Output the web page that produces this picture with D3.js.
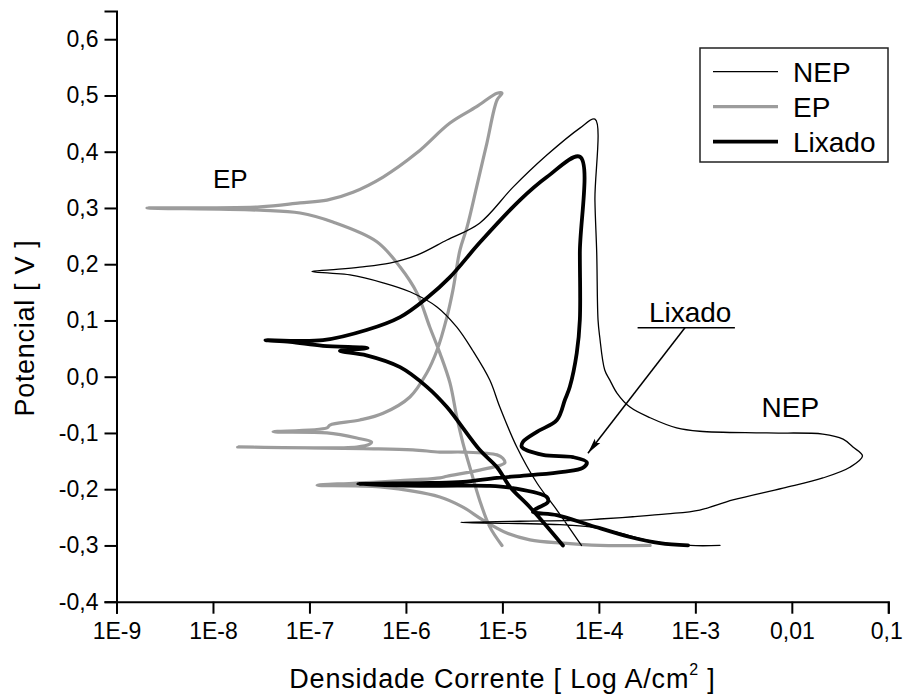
<!DOCTYPE html>
<html>
<head>
<meta charset="utf-8">
<script src="https://cdn.jsdelivr.net/npm/d3@7"></script>
<style>
  html, body { margin: 0; padding: 0; background: #fff; }
  svg { display: block; }
  text { font-family: "Liberation Sans", Arial, sans-serif; fill: #000; }
</style>
</head>
<body>
<svg id="chart" width="903" height="695"></svg>
<script>
// ---- Data (current density in A/cm², potential in V) ----
const nepCurrent = [6.6e-5,3.67e-5,2.28e-5,1.41e-5,9.4e-6,7.4e-6,4.9e-6,3.37e-6,2.1e-6,1.1e-6,5.8e-7,2.63e-7,1.63e-7,1.06e-7,
  1.63e-7,3.33e-7,6.8e-7,1.3e-6,2.66e-6,5.8e-6,1.29e-5,2.89e-5,6.35e-5,9.1e-5,
  9.1e-5,9.5e-5,9.8e-5,1.02e-4,1.15e-4,1.3e-4,1.54e-4,2.1e-4,3.4e-4,6.4e-4,1.11e-3,5.5e-3,0.021,0.034,0.043,0.054,
  0.040,0.021,8.1e-3,2.45e-3,1.11e-3,5.1e-4,2.25e-4,1.02e-4,6.8e-5,1.52e-5,3.7e-6,
  1.52e-5,3.94e-5,8.1e-5,1.65e-4,3.4e-4,8.8e-4,1.8e-3];
const nepPotential = [-0.300,-0.237,-0.189,-0.125,-0.054,-0.006,0.047,0.088,0.124,0.151,0.167,0.181,0.184,0.187,
  0.190,0.195,0.202,0.216,0.243,0.273,0.337,0.394,0.442,0.458,
  0.314,0.220,0.101,0.071,0.012,-0.006,-0.029,-0.054,-0.073,-0.091,-0.097,-0.100,-0.102,-0.111,-0.125,-0.141,
  -0.161,-0.180,-0.198,-0.219,-0.237,-0.244,-0.249,-0.253,-0.255,-0.257,-0.259,
  -0.261,-0.263,-0.267,-0.278,-0.292,-0.300,-0.300];

const epCurrent = [9.9e-6,7.4e-6,5.8e-6,4.6e-6,3.9e-6,3.37e-6,2.86e-6,2.25e-6,1.77e-6,1.3e-6,8.7e-7,5.0e-7,1.75e-7,8.0e-8,3.07e-8,2.07e-9,
  3.07e-8,8.0e-8,1.52e-7,2.83e-7,5.8e-7,1.3e-6,2.86e-6,5.4e-6,8.8e-6,9.9e-6,
  8.8e-6,6.9e-6,5.4e-6,4.3e-6,3.63e-6,3.07e-6,2.66e-6,2.1e-6,1.65e-6,1.1e-6,5.8e-7,3.33e-7,1.63e-7,1.52e-7,4.2e-8,
  1.52e-7,3.1e-7,4.4e-7,4.2e-7,3.1e-7,1.8e-8,3.6e-7,1.18e-6,2.25e-6,3.9e-6,8.8e-6,1.01e-5,1.06e-5,
  5.8e-6,2.66e-6,2.25e-6,3.1e-7,1.2e-7,5.4e-7,2.25e-6,3.9e-6,6.3e-6,1.11e-5,1.93e-5,4.24e-5,1.02e-4,3.4e-4];
const epPotential = [-0.300,-0.267,-0.219,-0.161,-0.118,-0.072,-0.011,0.042,0.088,0.149,0.195,0.240,0.275,0.291,0.296,0.300,
  0.302,0.309,0.314,0.328,0.355,0.398,0.451,0.480,0.504,0.504,
  0.492,0.415,0.337,0.266,0.225,0.154,0.106,0.047,0.007,-0.036,-0.065,-0.077,-0.086,-0.091,-0.098,
  -0.100,-0.109,-0.116,-0.120,-0.125,-0.125,-0.128,-0.130,-0.134,-0.134,-0.139,-0.145,-0.153,
  -0.166,-0.177,-0.180,-0.189,-0.193,-0.196,-0.214,-0.232,-0.255,-0.278,-0.290,-0.296,-0.300,-0.300];

const lixCurrent = [4.24e-5,1.93e-5,1.2e-5,8.8e-6,5.8e-6,2.66e-6,1.65e-6,8.7e-7,3.9e-7,2.07e-7,4.0e-7,1.38e-7,6.3e-8,3.5e-8,
  1.38e-7,3.9e-7,8.7e-7,1.65e-6,2.86e-6,5.8e-6,1.52e-5,2.89e-5,6.35e-5,
  6.35e-5,6.35e-5,5.9e-5,5.0e-5,4.45e-5,3.67e-5,2.28e-5,1.63e-5,1.59e-5,2.63e-5,5.4e-5,7.5e-5,6.8e-5,4.24e-5,1.93e-5,8.8e-6,3.9e-6,1.77e-6,3.2e-7,
  1.77e-6,7.4e-6,1.29e-5,2.89e-5,2.96e-5,2.28e-5,2.07e-5,3.67e-5,8.1e-5,2.1e-4,4.3e-4,8.4e-4];
const lixPotential = [-0.300,-0.232,-0.196,-0.161,-0.130,-0.054,-0.018,0.017,0.038,0.046,0.051,0.055,0.062,0.065,
  0.065,0.083,0.106,0.140,0.177,0.238,0.314,0.355,0.391,
  0.220,0.101,0.042,-0.018,-0.041,-0.077,-0.098,-0.116,-0.125,-0.139,-0.143,-0.152,-0.162,-0.169,-0.175,-0.180,-0.187,-0.189,-0.191,
  -0.194,-0.194,-0.198,-0.214,-0.223,-0.234,-0.240,-0.246,-0.264,-0.285,-0.296,-0.300];

const seriesNames = ["NEP", "EP", "Lixado"];
const xTickValues = [1e-9,1e-8,1e-7,1e-6,1e-5,1e-4,1e-3,1e-2,1e-1];
const xTickLabels = ["1E-9","1E-8","1E-7","1E-6","1E-5","1E-4","1E-3","0,01","0,1"];
const yTickValues = [-0.4,-0.3,-0.2,-0.1,0.0,0.1,0.2,0.3,0.4,0.5,0.6];
const yMinorValues = [-0.35,-0.25,-0.15,-0.05,0.05,0.15,0.25,0.35,0.45,0.55];
const xLabel = "Densidade Corrente [ Log A/cm";
const yLabel = "Potencial [ V ]";

// ---- Layout ----
const svg = d3.select("#chart");
const x = d3.scaleLog().domain([1e-9, 0.1]).range([116.5, 888.3]);
const y = d3.scaleLinear().domain([-0.4, 0.65]).range([601.7, 11.1]);

const styles = {
  NEP:    { stroke: "#000", width: 1.3 },
  EP:     { stroke: "#9c9c9c", width: 3.2 },
  Lixado: { stroke: "#000", width: 3.8 }
};

// minor x ticks (2..9 per decade)
const xMinor = [];
for (let e = -9; e < -1; e++) for (let m = 2; m <= 9; m++) xMinor.push(m * Math.pow(10, e));

// Axes
const gx = svg.append("g").attr("transform", `translate(0,${y(-0.4)})`);
gx.call(d3.axisBottom(x).tickValues(xMinor).tickSize(7).tickFormat(""));
gx.call(d3.axisBottom(x).tickValues(xTickValues).tickSize(12).tickPadding(6)
  .tickFormat((d, i) => xTickLabels[i]));
const gy = svg.append("g").attr("transform", `translate(${x(1e-9)},0)`);
gy.call(d3.axisLeft(y).tickValues(yMinorValues).tickSize(7).tickFormat(""));
gy.call(d3.axisLeft(y).tickValues(yTickValues).tickSize(12).tickPadding(6)
  .tickFormat(d => d.toFixed(1).replace(".", ",")));
svg.selectAll(".domain").attr("stroke", "#000").attr("stroke-width", 2);
svg.selectAll(".tick line").attr("stroke", "#000").attr("stroke-width", 2);
gx.selectAll(".tick text").attr("font-size", 23).attr("font-family", "Liberation Sans, Arial, sans-serif").attr("dy", "0.85em");
gx.selectAll(".tick text").filter(d => d === 0.1).attr("text-anchor", "end").attr("x", 14);
gy.selectAll(".tick text").attr("font-size", 23).attr("font-family", "Liberation Sans, Arial, sans-serif");

// Curves
const line = d3.line().x(d => x(d[0])).y(d => y(d[1])).curve(d3.curveCatmullRom.alpha(0.5));
const data = {
  NEP: nepCurrent.map((c, i) => [c, nepPotential[i]]),
  EP: epCurrent.map((c, i) => [c, epPotential[i]]),
  Lixado: lixCurrent.map((c, i) => [c, lixPotential[i]])
};
["EP", "NEP", "Lixado"].forEach(name => {
  svg.append("path").datum(data[name])
    .attr("d", line)
    .attr("fill", "none")
    .attr("stroke", styles[name].stroke)
    .attr("stroke-width", styles[name].width)
    .attr("stroke-linejoin", "round")
    .attr("stroke-linecap", "round");
});

// Axis titles
const xt = svg.append("text").attr("x", (x(1e-9) + x(0.1)) / 2).attr("y", 688)
  .attr("text-anchor", "middle").attr("font-size", 27).attr("letter-spacing", 0.8);
xt.append("tspan").text(xLabel);
xt.append("tspan").text("2").attr("font-size", 16).attr("dy", -13);
xt.append("tspan").text(" ]").attr("dy", 13);

svg.append("text").attr("transform", "translate(34,328) rotate(-90)")
  .attr("text-anchor", "middle").attr("font-size", 27).attr("letter-spacing", 0.7).text(yLabel);

// Legend
const lg = svg.append("g");
lg.append("rect").attr("x", 700).attr("y", 48).attr("width", 188).attr("height", 114)
  .attr("fill", "#fff").attr("stroke", "#222").attr("stroke-width", 1.5);
seriesNames.forEach((name, i) => {
  const yy = 71.7 + i * 35;
  lg.append("line").attr("x1", 713).attr("x2", 778).attr("y1", yy).attr("y2", yy)
    .attr("stroke", styles[name].stroke).attr("stroke-width", styles[name].width);
  lg.append("text").attr("x", 793).attr("y", yy + 10).attr("font-size", 28).text(name);
});

// Annotations
svg.append("text").attr("x", x(1e-8)).attr("y", y(0.335)).attr("font-size", 26).text("EP");
svg.append("text").attr("x", x(4.85e-3)).attr("y", y(-0.071)).attr("font-size", 28).text("NEP");
svg.append("text").attr("x", x(3.3e-4)).attr("y", y(0.097)).attr("font-size", 28).text("Lixado");
svg.append("line").attr("x1", x(2.52e-4)).attr("x2", x(2.57e-3)).attr("y1", y(0.087)).attr("y2", y(0.087))
  .attr("stroke", "#000").attr("stroke-width", 1.5);
// arrow
const ax0 = x(7.8e-4), ay0 = y(0.087), ax1 = x(7.7e-5), ay1 = y(-0.136);
svg.append("line").attr("x1", ax0).attr("y1", ay0).attr("x2", ax1).attr("y2", ay1)
  .attr("stroke", "#000").attr("stroke-width", 1.5);
const ang = Math.atan2(ay1 - ay0, ax1 - ax0);
const hl = 16, hw = 0.22;
svg.append("path")
  .attr("d", `M${ax1},${ay1} L${ax1 - hl * Math.cos(ang - hw)},${ay1 - hl * Math.sin(ang - hw)} L${ax1 - hl * 0.8 * Math.cos(ang)},${ay1 - hl * 0.8 * Math.sin(ang)} L${ax1 - hl * Math.cos(ang + hw)},${ay1 - hl * Math.sin(ang + hw)} Z`)
  .attr("fill", "#000");
</script>
</body>
</html>
